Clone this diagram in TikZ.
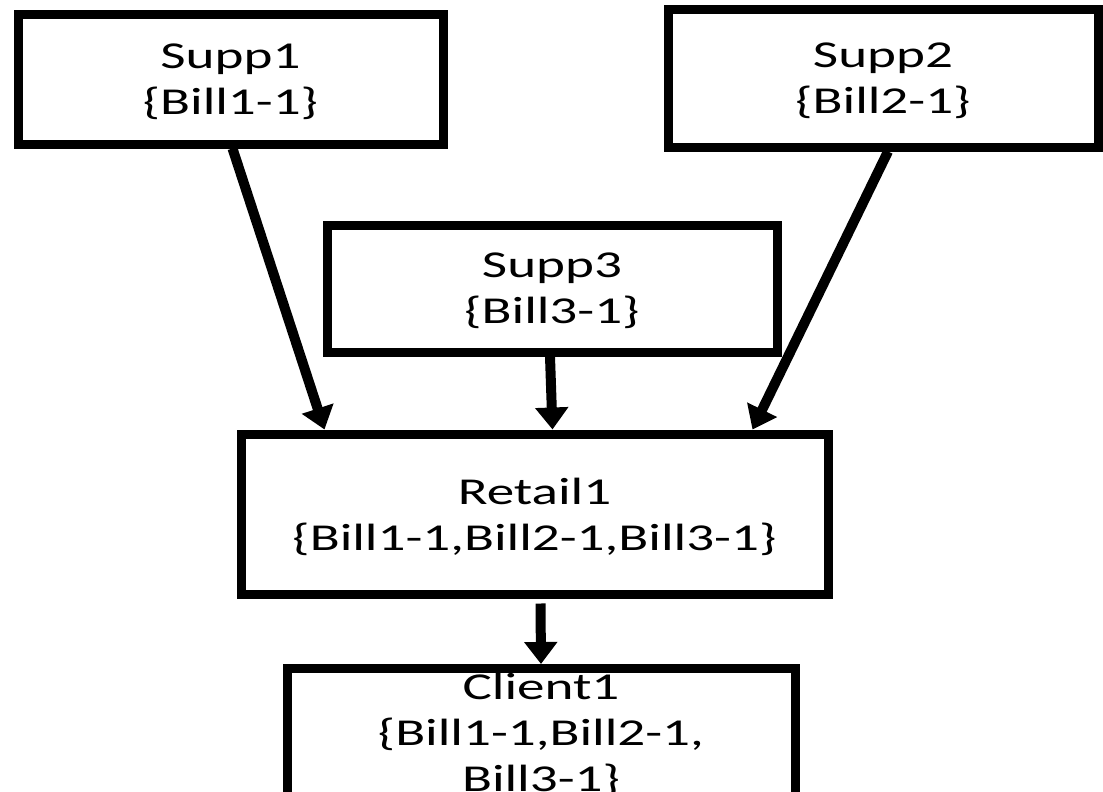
\documentclass[tikz,border=0pt]{standalone}
\usepackage{fontspec}
\setmainfont[FakeStretch=1.45]{Carlito}
\usetikzlibrary{arrows.meta}
\begin{document}
\begin{tikzpicture}[x=1pt,y=-1pt,
  box/.style={draw=black,line width=9pt,rectangle,inner sep=0pt,align=center,
    text depth=0pt,font=\fontsize{38}{46}\selectfont},
  flow/.style={line width=10pt,-{Triangle[length=22pt,width=32pt]}}]
\useasboundingbox (0,0) rectangle (1103,792);
\clip (0,0) rectangle (1103,792);

% supplier boxes
\node[box,minimum width=425pt,minimum height=129pt] (supp1) at (230.5,79.5)
  {Supp1\\\{Bill1-1\}};
\node[box,minimum width=430pt,minimum height=137pt] (supp2) at (883,78.5)
  {Supp2\\\{Bill2-1\}};
\node[box,minimum width=450pt,minimum height=127pt] (supp3) at (552,288.5)
  {Supp3\\\{Bill3-1\}};

% retailer and client
\node[box,minimum width=587pt,minimum height=160pt] (retail) at (534.5,514)
  {Retail1\\\{Bill1-1,Bill2-1,Bill3-1\}};
\node[box,minimum width=508pt,minimum height=128pt] (client) at (541,732.5)
  {Client1\\\{Bill1-1,Bill2-1,\\Bill3-1\}};

% bill flows
\draw[flow] ([xshift=2pt]supp1.south) -- ([xshift=88pt]retail.north west);
\draw[flow] ([xshift=5pt]supp2.south) -- ([xshift=-80pt]retail.north east);
\draw[flow] ([xshift=-2pt]supp3.south) -- ([xshift=18pt]retail.north);
\draw[flow] ([xshift=6pt,yshift=-5pt]retail.south) -- (client.north);
\end{tikzpicture}
\end{document}
